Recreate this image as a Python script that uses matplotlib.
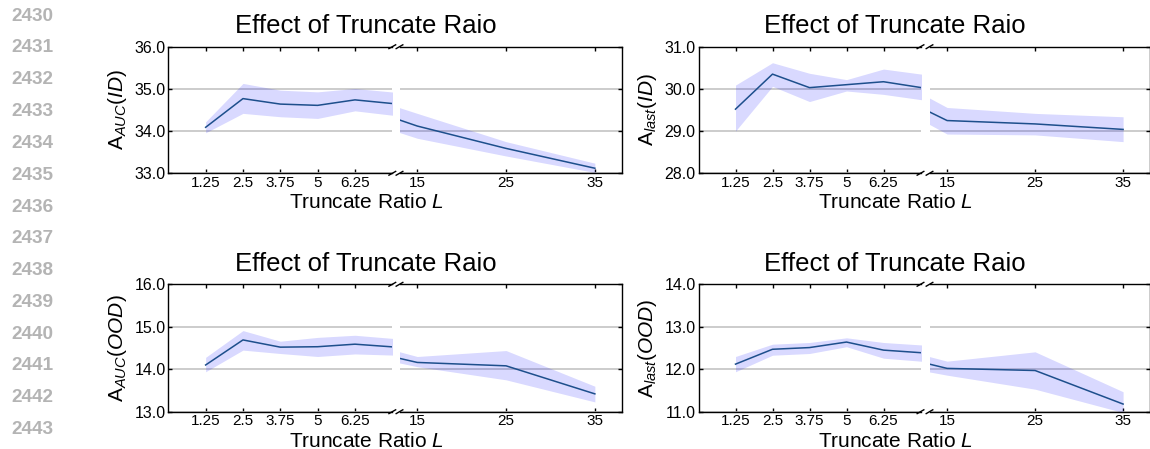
import matplotlib

matplotlib.use("Agg")
import matplotlib.pyplot as plt
from matplotlib.ticker import FormatStrFormatter

W, H = 1150, 449

# truncate ratio values (10 is plotted but not labelled; it sits in the axis break)
L_VALUES = [1.25, 2.5, 3.75, 5, 6.25, 10, 15, 25, 35]
LEFT_TICKS = [1.25, 2.5, 3.75, 5, 6.25]
LEFT_TICK_LABELS = ["1.25", "2.5", "3.75", "5", "6.25"]
RIGHT_TICKS = [15, 25, 35]
RIGHT_TICK_LABELS = ["15", "25", "35"]

AUC_ID_MEAN = [34.09, 34.77, 34.64, 34.61, 34.74, 34.48, 34.12, 33.59, 33.12]
AUC_ID_HIGH = [34.22, 35.13, 34.97, 34.93, 35.01, 34.76, 34.42, 33.75, 33.24]
AUC_ID_LOW = [33.96, 34.42, 34.34, 34.30, 34.48, 34.17, 33.83, 33.41, 33.02]

LAST_ID_MEAN = [29.52, 30.35, 30.03, 30.10, 30.17, 29.76, 29.25, 29.17, 29.04]
LAST_ID_HIGH = [30.09, 30.62, 30.37, 30.22, 30.47, 30.12, 29.56, 29.42, 29.34]
LAST_ID_LOW = [29.00, 30.06, 29.70, 29.95, 29.87, 29.50, 28.93, 28.91, 28.75]

AUC_OOD_MEAN = [14.10, 14.69, 14.52, 14.53, 14.59, 14.40, 14.16, 14.08, 13.42]
AUC_OOD_HIGH = [14.28, 14.91, 14.66, 14.75, 14.80, 14.58, 14.30, 14.44, 13.60]
AUC_OOD_LOW = [13.94, 14.45, 14.37, 14.30, 14.36, 14.28, 14.06, 13.75, 13.23]

LAST_OOD_MEAN = [12.12, 12.47, 12.51, 12.64, 12.45, 12.27, 12.02, 11.97, 11.18]
LAST_OOD_HIGH = [12.30, 12.59, 12.63, 12.74, 12.63, 12.46, 12.19, 12.41, 11.47]
LAST_OOD_LOW = [11.94, 12.33, 12.37, 12.53, 12.26, 12.05, 11.86, 11.53, 10.98]

LINE_NUMBERS = [str(n) for n in range(2430, 2444)]

LINE_COLOR = "#1d4f8c"
BAND_COLOR = "#0000ff"
GRID_COLOR = "#c4c4c4"

# (ylabel, ylim, mean, low, high, left-ax px, right-ax px, y px, text-centre px)
PANELS = [
    (r"A$_{AUC}$($ID$)", (33, 36), AUC_ID_MEAN, AUC_ID_LOW, AUC_ID_HIGH,
     (168.3, 392.3), (399.5, 621.5), (46.7, 173.3), 366),
    (r"A$_{last}$($ID$)", (28, 31), LAST_ID_MEAN, LAST_ID_LOW, LAST_ID_HIGH,
     (698.5, 920.5), (929.5, 1149.5), (46.7, 173.3), 895),
    (r"A$_{AUC}$($OOD$)", (13, 16), AUC_OOD_MEAN, AUC_OOD_LOW, AUC_OOD_HIGH,
     (168.3, 392.3), (399.5, 621.5), (284.3, 411.7), 366),
    (r"A$_{last}$($OOD$)", (11, 14), LAST_OOD_MEAN, LAST_OOD_LOW, LAST_OOD_HIGH,
     (698.5, 920.5), (929.5, 1149.5), (284.3, 411.7), 895),
]


def configure_style() -> None:
    plt.rcParams.update(
        {
            "font.family": "Liberation Sans",
            "mathtext.fontset": "custom",
            "mathtext.rm": "Liberation Sans",
            "mathtext.it": "Liberation Sans:italic",
            "mathtext.bf": "Liberation Sans:bold",
            "axes.linewidth": 1.0,
        }
    )


def px_rect(xs, ys):
    x0, x1 = xs
    y0, y1 = ys
    return [x0 / W, 1 - y1 / H, (x1 - x0) / W, (y1 - y0) / H]


def style_axis(ax, ylim, xlim, ticks, labels):
    ax.set_xlim(*xlim)
    ax.set_ylim(*ylim)
    ax.set_xticks(ticks)
    ax.set_xticklabels(labels)
    ax.set_yticks(range(ylim[0], ylim[1] + 1))
    ax.yaxis.set_major_formatter(FormatStrFormatter("%.1f"))
    ax.grid(axis="y", color=GRID_COLOR, linewidth=1.2)
    ax.set_axisbelow(True)
    ax.tick_params(direction="in", top=True, bottom=True, length=3, width=1, pad=2)
    ax.tick_params(axis="x", labelsize=11)
    ax.tick_params(axis="y", labelsize=11.5)


def draw_break(ax, side):
    d = 0.015
    x = 1 if side == "right" else 0
    kw = dict(transform=ax.transAxes, color="k", clip_on=False, linewidth=1)
    ax.plot((x - d, x + d), (-d, d), **kw)
    ax.plot((x - d, x + d), (1 - d, 1 + d), **kw)


def plot_panel(fig, ylabel, ylim, mean, low, high, left_px, right_px, y_px, cx):
    ax_l = fig.add_axes(px_rect(left_px, y_px))
    ax_r = fig.add_axes(px_rect(right_px, y_px))
    for ax in (ax_l, ax_r):
        ax.fill_between(L_VALUES, low, high, color=BAND_COLOR, alpha=0.15, linewidth=0)
        ax.plot(L_VALUES, mean, color=LINE_COLOR, linewidth=1.1)

    style_axis(ax_l, ylim, (0, 7.5), LEFT_TICKS, LEFT_TICK_LABELS)
    style_axis(ax_r, ylim, (13, 38), RIGHT_TICKS, RIGHT_TICK_LABELS)

    ax_l.spines["right"].set_visible(False)
    ax_l.tick_params(axis="y", left=True, right=False)
    ax_r.spines["left"].set_visible(False)
    ax_r.tick_params(axis="y", left=False, right=True, labelleft=False)

    draw_break(ax_l, "right")
    draw_break(ax_r, "left")

    ax_l.set_ylabel(ylabel, fontsize=15, labelpad=4)

    top, bottom = y_px
    fig.text(cx / W, 1 - (top - 13.7) / H, "Effect of Truncate Raio",
             fontsize=18.5, ha="center", va="baseline")
    fig.text(cx / W, 1 - (bottom + 35.0) / H, r"Truncate Ratio $L$",
             fontsize=15, ha="center", va="baseline")


def main() -> None:
    configure_style()
    fig = plt.figure(figsize=(W / 100, H / 100), dpi=100)

    for i, num in enumerate(LINE_NUMBERS):
        fig.text(11 / W, 1 - (16.2 + 31.8 * i) / H, num, fontsize=13.7,
                 fontweight="bold", color="#b4b4b4", ha="left", va="center")

    for panel in PANELS:
        plot_panel(fig, *panel)

    fig.savefig("out.png", dpi=100, facecolor="white")
    plt.close(fig)


if __name__ == "__main__":
    main()
